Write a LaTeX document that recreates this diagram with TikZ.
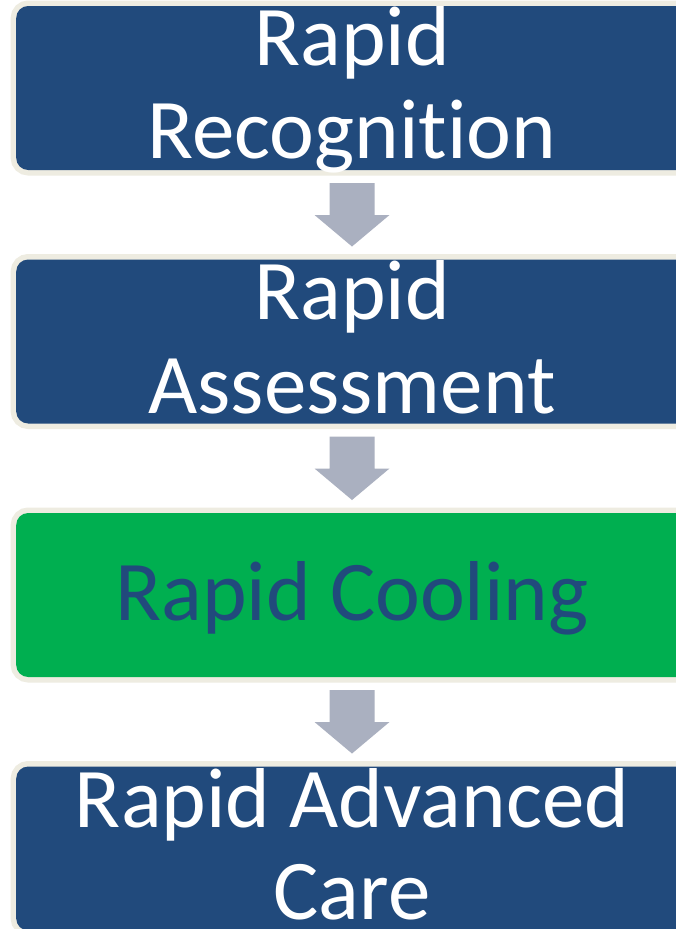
\documentclass[tikz,border=0pt]{standalone}
\usepackage{fontspec}
\setmainfont{Carlito}[Ligatures={NoCommon}]
\usetikzlibrary{calc}

\definecolor{boxblue}{HTML}{214A7C}
\definecolor{boxgreen}{HTML}{00AF50}
\definecolor{rimbeige}{HTML}{EEECE1}
\definecolor{arrowgray}{HTML}{AAB0C0}
\definecolor{textblue}{HTML}{214A7C}

\tikzset{
  stage/.style={rectangle, rounded corners=12pt, minimum width=671.6pt,
    minimum height=164pt, inner sep=0pt, outer sep=0pt,
    preaction={draw=rimbeige, line width=11pt}},
  bluestage/.style={stage, fill=boxblue},
  greenstage/.style={stage, fill=boxgreen},
  caption/.style={anchor=base, inner sep=0pt, outer sep=0pt,
    font=\fontsize{85}{93}\selectfont},
  flowarrow/.style={fill=arrowgray},
}

% block arrow from the bottom of one stage to the top of the next
\newcommand\stagearrow[2]{%
  \fill[flowarrow]
    ($(#1.south)+(-22.5,13)$) -- ($(#1.south)+(22.5,13)$)
    -- ($(#1.south)+(22.5,45)$) -- ($(#1.south)+(37.5,45)$)
    -- ($(#2.north)+(0,-13)$)
    -- ($(#1.south)+(-37.5,45)$) -- ($(#1.south)+(-22.5,45)$) -- cycle;
}

\begin{document}
\begin{tikzpicture}[x=1pt, y=-1pt]
  \clip (0,0) rectangle (676,929);
  \fill[white] (0,0) rectangle (676,929);

  % stages
  \node[bluestage]  (b1) at (352,88)    {};
  \node[bluestage]  (b2) at (352,341.5) {};
  \node[greenstage] (b3) at (352,595)   {};
  \node[bluestage]  (b4) at (352,848.5) {};

  % captions
  \node[caption, text=white] (t1a) at ($(b1.center)+(0,-23)$) {Rapid};
  \node[caption, text=white] (t1b) at ($(b1.center)+(0,70)$)  {Recognition};
  \node[caption, text=white] (t2a) at ($(b2.center)+(0,-22.5)$) {Rapid};
  \node[caption, text=white] (t2b) at ($(b2.center)+(0,71.5)$)  {Assessment};
  \node[caption, text=textblue] (t3) at ($(b3.center)+(0,25)$) {Rapid Cooling};
  \node[caption, text=white] (t4a) at ($(b4.center)+(0,-21.5)$) {Rapid Advanced};
  \node[caption, text=white] (t4b) at ($(b4.center)+(0,70.5)$)  {Care};

  % arrows between stages
  \stagearrow{b1}{b2}
  \stagearrow{b2}{b3}
  \stagearrow{b3}{b4}
\end{tikzpicture}
\end{document}
